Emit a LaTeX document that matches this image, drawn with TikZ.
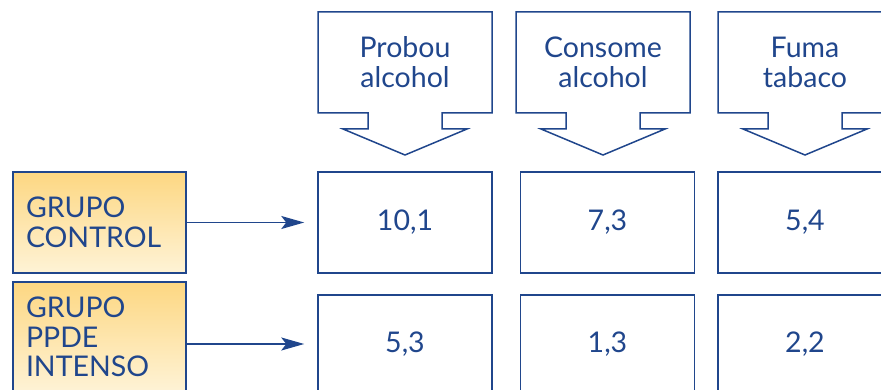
\documentclass[tikz,border=0pt]{standalone}
\usepackage{fontspec}
\setmainfont{Lato}
\usetikzlibrary{arrows.meta,calc}
\definecolor{inkblue}{RGB}{32,70,140}
\definecolor{goldtop}{RGB}{253,215,130}
\definecolor{goldbot}{RGB}{254,243,214}
\begin{document}
\begin{tikzpicture}[
    x=1pt, y=-1pt,
    group/.style={rectangle, draw=inkblue, line width=1.5pt, top color=goldtop, bottom color=goldbot, text width=147pt, inner xsep=13pt, align=left, font=\fontsize{28.5}{29.5}\selectfont, text=inkblue},
    cell/.style={rectangle, draw=inkblue, line width=1.5pt, minimum width=174pt, minimum height=101pt, font=\fontsize{28.5}{29.5}\selectfont, text=inkblue},
    head/.style={rectangle, minimum width=174pt, minimum height=101pt, outer sep=0pt, align=center, font=\fontsize{28.5}{30}\selectfont, text=inkblue},
    outline/.style={draw=inkblue, line width=1.5pt, line join=miter},
    link/.style={-{Stealth[length=23pt,width=13pt,inset=5pt]}, line width=1.5pt, draw=inkblue, shorten >=13pt}
]
\useasboundingbox (0,0) rectangle (881,390);
\clip (0,0) rectangle (881,390);

\node[head] (hProbou) at (405,62.5) {Probou\\alcohol};
\node[head] (hConsome) at (603,62.5) {Consome\\alcohol};
\node[head] (hFuma) at (805,62.5) {Fuma\\tabaco};

\foreach \h in {hProbou,hConsome,hFuma}
  \draw[outline] (\h.south west) -- (\h.north west) -- (\h.north east) -- (\h.south east)
    -- ($(\h.south)+(37,0)$) -- ++(0,16) -- ++(25,0) -- ($(\h.south)+(0,42)$)
    -- ++(-62,-26) -- ++(25,0) -- ++(0,-16) -- cycle;

\node[group, minimum height=101pt] (gControl) at (99.5,222.5) {GRUPO\\CONTROL};
\node[group, minimum height=110pt] (gIntenso) at (99.5,337) {GRUPO\\PPDE\\INTENSO};

\node[cell] (c11) at (405,222.5) {10,1};
\node[cell] (c12) at (607.5,222.5) {7,3};
\node[cell] (c13) at (805,222.5) {5,4};
\node[cell, minimum height=98pt] (c21) at (405,344) {5,3};
\node[cell, minimum height=98pt] (c22) at (607.5,344) {1,3};
\node[cell, minimum height=98pt] (c23) at (805,344) {2,2};

\draw[link] (gControl.east) -- (c11.west);
\draw[link] (gIntenso.east |- c21.west) -- (c21.west);

\end{tikzpicture}
\end{document}
